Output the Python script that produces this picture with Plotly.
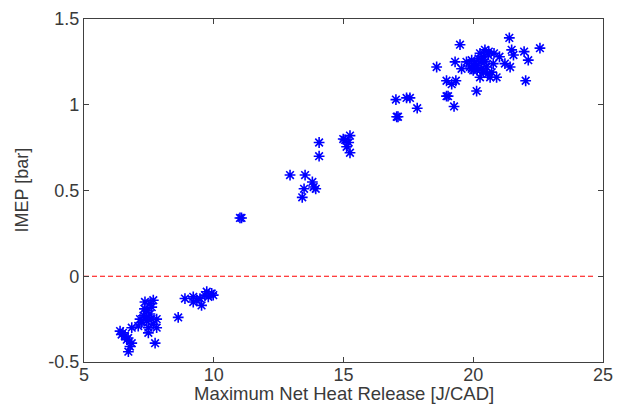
import plotly.graph_objects as go

# Scatter data: Maximum Net Heat Release [J/CAD] vs IMEP [bar]
heat_release = [
    6.39, 6.45, 6.58, 6.65, 6.77, 6.71, 6.84, 6.84, 6.50, 6.70,
    7.09, 7.35, 7.67, 7.42, 7.54, 7.29, 7.16, 7.80, 7.42, 7.67, 7.22, 7.48, 7.80, 7.48, 7.74, 7.61, 7.33, 7.55, 7.40, 7.60,
    8.63, 8.89, 9.21, 9.21, 9.47, 9.53, 9.73, 9.79, 9.98, 9.92, 9.66, 9.35,
    11.01, 11.07,
    12.94, 13.52, 13.48, 13.41, 13.80, 13.93, 13.85, 14.06, 14.06,
    14.99, 15.06, 15.25, 15.12, 15.25, 15.20,
    17.02, 17.43, 17.56, 17.84, 17.05, 17.10,
    18.59, 18.97, 19.33, 19.17, 18.97, 19.03, 19.26, 19.49, 19.30, 19.55, 20.13, 19.74, 19.94, 19.94,
    20.13, 20.26, 20.45, 20.58, 20.32, 20.51, 20.39, 20.26, 20.71, 20.65, 20.90, 21.01, 20.00, 19.87,
    20.45, 20.77, 21.39, 21.48, 21.55, 21.22, 21.42, 21.96, 22.12, 22.02, 22.57,
    20.20, 20.40, 20.60, 20.15, 20.55, 20.30, 20.80, 20.05,
]
imep = [
    -0.32, -0.34, -0.35, -0.37, -0.41, -0.44, -0.39, -0.30, -0.33, -0.36,
    -0.29, -0.15, -0.14, -0.20, -0.22, -0.23, -0.25, -0.25, -0.26, -0.28, -0.27, -0.30, -0.30, -0.33, -0.39, -0.18, -0.19, -0.16, -0.24, -0.25,
    -0.24, -0.13, -0.12, -0.15, -0.13, -0.17, -0.09, -0.12, -0.11, -0.10, -0.11, -0.14,
    0.34, 0.34,
    0.59, 0.59, 0.51, 0.46, 0.55, 0.51, 0.52, 0.78, 0.70,
    0.80, 0.795, 0.82, 0.755, 0.72, 0.78,
    1.03, 1.04, 1.04, 0.98, 0.93, 0.93,
    1.22, 1.14, 1.14, 1.12, 1.05, 1.05, 0.99, 1.35, 1.25, 1.21, 1.08, 1.25, 1.26, 1.21,
    1.23, 1.30, 1.32, 1.29, 1.25, 1.22, 1.19, 1.16, 1.19, 1.16, 1.16, 1.28, 1.20, 1.22,
    1.25, 1.24, 1.39, 1.32, 1.29, 1.24, 1.22, 1.31, 1.26, 1.14, 1.33,
    1.27, 1.28, 1.31, 1.20, 1.18, 1.21, 1.30, 1.24,
]

ref_x = [5, 24.7]
ref_y = [0, 0]

x_ticks = [5, 10, 15, 20, 25]
y_ticks = [-0.5, 0, 0.5, 1, 1.5]
y_tick_text = ["-0.5", "0", "0.5", "1", "1.5"]

font_family = "Liberation Sans, Arial, sans-serif"
text_color = "#3a3a3a"

fig = go.Figure()
fig.add_trace(go.Scatter(
    x=ref_x, y=ref_y, mode="lines",
    line=dict(color="#ff0000", width=1.2, dash="5px,3px"),
    hoverinfo="skip", showlegend=False,
))
fig.add_trace(go.Scatter(
    x=heat_release, y=imep, mode="markers",
    marker=dict(symbol="asterisk-open", size=9, color="#0000ff",
                line=dict(color="#0000ff", width=1.6)),
    showlegend=False,
))

axis_common = dict(
    showgrid=False, zeroline=False, automargin=False,
    showline=True, linecolor="#404040", linewidth=1.2,
    mirror="ticks", ticks="inside", ticklen=5, tickwidth=1, tickcolor="#404040",
    tickfont=dict(family=font_family, size=18, color=text_color),
)

fig.update_layout(
    width=623, height=410,
    margin=dict(l=84, r=20, t=19, b=48),
    paper_bgcolor="white", plot_bgcolor="white",
    font=dict(family=font_family, color=text_color),
    xaxis=dict(range=[5, 25], tickvals=x_ticks, ticklabelstandoff=-4, **axis_common),
    yaxis=dict(range=[-0.5, 1.5], tickvals=y_ticks, ticktext=y_tick_text, **axis_common),
    annotations=[
        dict(text="Maximum Net Heat Release [J/CAD]", xref="paper", yref="paper",
             x=0.5, y=0, xanchor="center", yanchor="middle", yshift=-31,
             showarrow=False, font=dict(family=font_family, size=18.5, color=text_color)),
        dict(text="IMEP [bar]", xref="paper", yref="paper",
             x=0, y=0.5, xanchor="center", yanchor="middle", xshift=-63, textangle=-90,
             showarrow=False, font=dict(family=font_family, size=18, color=text_color)),
    ],
)

fig.write_html("out.html")
